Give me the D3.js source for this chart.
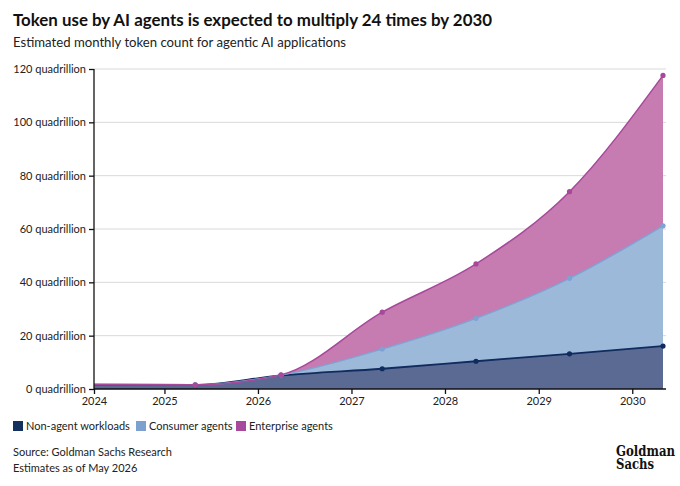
<!DOCTYPE html>
<html>
<head>
<meta charset="utf-8">
<script src="https://cdn.jsdelivr.net/npm/d3@7"></script>
<style>
  body { margin: 0; background: #fff; }
  svg { display: block; font-family: Lato, "Open Sans", sans-serif; }
</style>
</head>
<body>
<svg id="chart" width="680" height="486"></svg>
<script>
// data points (month of estimate), values in quadrillion tokens
const dates = ["2024-04", "2025-05", "2026-04", "2027-05", "2028-05", "2029-05", "2030-05"];
const nonAgent = [1.6, 1.5, 5.1, 7.6, 10.4, 13.2, 16.1];
const consumer = [0.05, 0.05, 0.1, 7.4, 16.1, 28.3, 45.1];
const enterprise = [0.05, 0.05, 0.1, 13.8, 20.4, 32.5, 56.4];
const yTicks = [0, 20, 40, 60, 80, 100, 120];
const years = ["2025", "2026", "2027", "2028", "2029", "2030"];
const seriesNames = ["Non-agent workloads", "Consumer agents", "Enterprise agents"];

const svg = d3.select("#chart");
const parseMonth = d3.timeParse("%Y-%m");
const parseYear = d3.timeParse("%Y");

const rows = dates.map((d, i) => ({
    date: parseMonth(d),
    nonAgent: nonAgent[i],
    consumer: consumer[i],
    enterprise: enterprise[i]
}));

const pLeft = 94, pRight = 663, pTop = 69, pBottom = 389;

const x = d3.scaleTime()
    .domain([parseMonth(dates[0]), parseMonth(dates[dates.length - 1])])
    .range([pLeft, pRight]);

const y = d3.scaleLinear()
    .domain([0, 120])
    .range([pBottom, pTop]);

const stack = d3.stack().keys(["nonAgent", "consumer", "enterprise"]);
const layers = stack(rows);

const fills = ["#5b6a93", "#9db9da", "#c67bb1"];
const strokes = ["#102b5e", "#7ea2d2", "#a7489b"];
const swatches = ["#14305f", "#7ca1d0", "#a84a9c"];

// title and subtitle
svg.append("text")
    .attr("x", 13).attr("y", 26)
    .attr("font-size", 17.5).attr("font-weight", 700)
    .attr("fill", "#111")
    .attr("textLength", 479).attr("lengthAdjust", "spacingAndGlyphs")
    .text("Token use by AI agents is expected to multiply 24 times by 2030");

svg.append("text")
    .attr("x", 13).attr("y", 47)
    .attr("font-size", 13).attr("fill", "#222")
    .attr("textLength", 333).attr("lengthAdjust", "spacingAndGlyphs")
    .text("Estimated monthly token count for agentic AI applications");

// grid
svg.append("g")
    .selectAll("line")
    .data(yTicks.slice(1))
    .enter()
    .append("line")
    .attr("x1", pLeft).attr("x2", 666)
    .attr("y1", d => y(d)).attr("y2", d => y(d))
    .attr("stroke", "#d9d9d9").attr("stroke-width", 1);

// areas
const area = d3.area()
    .curve(d3.curveMonotoneX)
    .x(d => x(d.data.date))
    .y0(d => y(d[0]))
    .y1(d => y(d[1]));

svg.append("g")
    .selectAll("path")
    .data(layers)
    .enter()
    .append("path")
    .attr("d", area)
    .attr("fill", (d, i) => fills[i]);

const line = d3.line()
    .curve(d3.curveMonotoneX)
    .x(d => x(d.data.date))
    .y(d => y(d[1]));

const lines = svg.append("g");
layers.forEach((layer, i) => {
    lines.append("path")
        .attr("d", line(layer))
        .attr("fill", "none")
        .attr("stroke", strokes[i])
        .attr("stroke-width", i === 0 ? 1.8 : 1.5);
    lines.selectAll(".dot" + i)
        .data(layer.slice(1))
        .enter()
        .append("circle")
        .attr("class", "dot" + i)
        .attr("cx", d => x(d.data.date))
        .attr("cy", d => y(d[1]))
        .attr("r", 2.6)
        .attr("fill", strokes[i]);
});

// y axis
const yAxis = d3.axisLeft(y)
    .tickValues(yTicks)
    .tickSize(5)
    .tickPadding(3)
    .tickFormat(d => d + " quadrillion");

svg.append("g")
    .attr("id", "y-axis")
    .attr("transform", "translate(" + pLeft + ",0)")
    .call(yAxis)
    .call(g => g.select(".domain").attr("stroke", "#111").attr("stroke-width", 1.3).attr("d", "M0," + pTop + "V" + pBottom))
    .call(g => g.selectAll(".tick line").attr("stroke", "#111").attr("stroke-width", 1.3))
    .call(g => g.selectAll(".tick text").attr("font-size", 11).attr("fill", "#222").attr("font-family", "Lato, sans-serif"));

// x axis
const xTickValues = [parseMonth(dates[0])].concat(years.map(parseYear));
const xAxis = d3.axisBottom(x)
    .tickValues(xTickValues)
    .tickSize(5)
    .tickPadding(3)
    .tickFormat(d3.timeFormat("%Y"));

svg.append("g")
    .attr("id", "x-axis")
    .attr("transform", "translate(0," + pBottom + ")")
    .call(xAxis)
    .call(g => g.select(".domain").attr("stroke", "#111").attr("stroke-width", 1.3).attr("d", "M" + pLeft + ",0H666"))
    .call(g => g.selectAll(".tick line").attr("stroke", "#111").attr("stroke-width", 1.3))
    .call(g => g.selectAll(".tick text").attr("font-size", 11).attr("fill", "#222").attr("font-family", "Lato, sans-serif"));

// legend
const legendX = [13, 136, 236];
const legend = svg.append("g").selectAll("g")
    .data(seriesNames)
    .enter()
    .append("g")
    .attr("transform", (d, i) => "translate(" + legendX[i] + ",421)");
legend.append("rect")
    .attr("width", 10).attr("height", 10)
    .attr("fill", (d, i) => swatches[i]);
legend.append("text")
    .attr("x", 13).attr("y", 9)
    .attr("font-size", 11).attr("fill", "#222")
    .text(d => d);

// footer
svg.append("text")
    .attr("x", 13).attr("y", 456)
    .attr("font-size", 11).attr("fill", "#222")
    .text("Source: Goldman Sachs Research");
svg.append("text")
    .attr("x", 13).attr("y", 472)
    .attr("font-size", 11).attr("fill", "#222")
    .text("Estimates as of May 2026");

// logo
const logo = svg.append("text")
    .attr("font-family", "'DejaVu Serif Condensed', 'DejaVu Serif', serif")
    .attr("font-weight", 700)
    .attr("font-size", 14)
    .attr("fill", "#111");
logo.append("tspan").attr("x", 616).attr("y", 456)
    .attr("textLength", 59).attr("lengthAdjust", "spacingAndGlyphs")
    .text("Goldman");
logo.append("tspan").attr("x", 616).attr("y", 469)
    .attr("textLength", 38).attr("lengthAdjust", "spacingAndGlyphs")
    .text("Sachs");
</script>
</body>
</html>
